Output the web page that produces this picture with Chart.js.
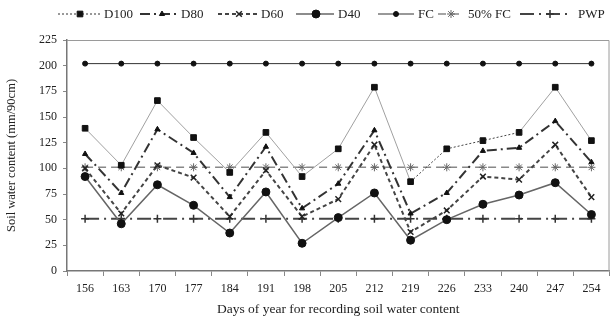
<!DOCTYPE html>
<html>
<head>
<meta charset="utf-8">
<script src="https://cdn.jsdelivr.net/npm/chart.js@4/dist/chart.umd.min.js"></script>
<style>
  html, body { margin: 0; padding: 0; background: #fff; }
  #wrap { width: 615px; height: 322px; }
</style>
</head>
<body>
<div id="wrap"><canvas id="chart" width="615" height="322"></canvas></div>
<script>
// data
const days = ["156", "163", "170", "177", "184", "191", "198", "205", "212", "219", "226", "233", "240", "247", "254"];
const d100 = [139, 103, 166, 130, 96, 135, 92, 119, 179, 87, 119, 127, 135, 179, 127];
const d80 = [114, 76, 138, 115, 72, 121, 61, 85, 137, 56, 76, 117, 120, 146, 106];
const d60 = [100, 56, 103, 91, 53, 98, 53, 70, 123, 38, 59, 92, 89, 123, 72];
const d40 = [92, 46, 84, 64, 37, 77, 27, 52, 76, 30, 50, 65, 74, 86, 55];
const fc = [202, 202, 202, 202, 202, 202, 202, 202, 202, 202, 202, 202, 202, 202, 202];
const halfFc = [101, 101, 101, 101, 101, 101, 101, 101, 101, 101, 101, 101, 101, 101, 101];
const pwp = [51, 51, 51, 51, 51, 51, 51, 51, 51, 51, 51, 51, 51, 51, 51];
const yTicks = [0, 25, 50, 75, 100, 125, 150, 175, 200, 225];

const serif = "'Liberation Serif', 'Times New Roman', serif";

// legend layout: line start, line end, marker x, text x
const legendPos = [
  [58, 100, 80, 104],
  [140, 176, 162, 181],
  [218, 258, 239, 261],
  [296, 334, 316, 338],
  [378, 414, 396, 418],
  [438, 464, 451, 468],
  [520, 572, 550, 578]
];

const legendPlugin = {
  id: "lineLegend",
  afterDraw(chart) {
    const ctx = chart.ctx;
    const y = 14;
    chart.data.datasets.forEach(function (ds, i) {
      const p = legendPos[i];
      ctx.save();
      ctx.strokeStyle = ds.legendLine || ds.borderColor;
      ctx.lineWidth = ds.borderWidth;
      ctx.setLineDash(ds.legendDash || ds.borderDash || []);
      ctx.beginPath();
      ctx.moveTo(p[0], y);
      ctx.lineTo(p[1], y);
      ctx.stroke();
      ctx.setLineDash([]);
      ctx.fillStyle = ds.pointBackgroundColor;
      ctx.strokeStyle = ds.pointBorderColor;
      ctx.lineWidth = ds.pointBorderWidth || 1;
      Chart.helpers.drawPoint(ctx, {
        pointStyle: ds.pointStyle,
        radius: ds.pointRadius,
        borderWidth: ds.pointBorderWidth || 1,
        rotation: 0
      }, p[2], y);
      ctx.fillStyle = "#222";
      ctx.font = "13px " + serif;
      ctx.textBaseline = "middle";
      ctx.fillText(ds.label, p[3], y + 1);
      ctx.restore();
    });
  }
};

// light frame on top and right of the plot
const framePlugin = {
  id: "frame",
  beforeDatasetsDraw(chart) {
    const a = chart.chartArea;
    const ctx = chart.ctx;
    ctx.save();
    ctx.strokeStyle = "#9a9a9a";
    ctx.lineWidth = 1;
    ctx.beginPath();
    ctx.moveTo(a.left, a.top + 0.5);
    ctx.lineTo(a.right - 0.5, a.top + 0.5);
    ctx.lineTo(a.right - 0.5, a.bottom);
    ctx.stroke();
    ctx.restore();
  }
};

new Chart(document.getElementById("chart"), {
  type: "line",
  data: {
    labels: days,
    datasets: [
      {
        label: "D100",
        data: d100,
        borderColor: "#a0a0a0",
        borderWidth: 1,
        legendLine: "#333",
        legendDash: [2, 2],
        segment: {
          borderDash: function (c) { return c.p0DataIndex >= 9 && c.p0DataIndex <= 11 ? [2, 2] : undefined; },
          borderColor: function (c) { return c.p0DataIndex >= 9 && c.p0DataIndex <= 11 ? "#444" : undefined; }
        },
        pointStyle: "rect",
        pointRadius: 4,
        pointBackgroundColor: "#111",
        pointBorderColor: "#111",
        pointBorderWidth: 1
      },
      {
        label: "D80",
        data: d80,
        borderColor: "#333",
        borderWidth: 2,
        borderDash: [10, 4, 2, 4],
        pointStyle: "triangle",
        pointRadius: 3,
        pointBackgroundColor: "#111",
        pointBorderColor: "#111",
        pointBorderWidth: 1
      },
      {
        label: "D60",
        data: d60,
        borderColor: "#444",
        borderWidth: 2,
        borderDash: [4, 3],
        pointStyle: "crossRot",
        pointRadius: 4,
        pointBackgroundColor: "#222",
        pointBorderColor: "#222",
        pointBorderWidth: 1.5
      },
      {
        label: "D40",
        data: d40,
        borderColor: "#666",
        borderWidth: 1.5,
        pointStyle: "circle",
        pointRadius: 4,
        pointBackgroundColor: "#111",
        pointBorderColor: "#111",
        pointBorderWidth: 1
      },
      {
        label: "FC",
        data: fc,
        borderColor: "#333",
        borderWidth: 1,
        pointStyle: "circle",
        pointRadius: 2.5,
        pointBackgroundColor: "#111",
        pointBorderColor: "#111",
        pointBorderWidth: 1
      },
      {
        label: "50% FC",
        data: halfFc,
        borderColor: "#888",
        borderWidth: 1.5,
        borderDash: [8, 5],
        pointStyle: "star",
        pointRadius: 4,
        pointBackgroundColor: "#666",
        pointBorderColor: "#666",
        pointBorderWidth: 1
      },
      {
        label: "PWP",
        data: pwp,
        borderColor: "#444",
        borderWidth: 2,
        borderDash: [14, 5, 2, 5],
        pointStyle: "cross",
        pointRadius: 4,
        pointBackgroundColor: "#333",
        pointBorderColor: "#333",
        pointBorderWidth: 1.5
      }
    ]
  },
  options: {
    responsive: false,
    animation: false,
    layout: { padding: { top: 40, right: 2, left: 0, bottom: 0 } },
    plugins: {
      legend: { display: false },
      tooltip: { enabled: false }
    },
    scales: {
      x: {
        offset: true,
        grid: { offset: true, drawOnChartArea: false, tickLength: 5, color: "#888" },
        border: { color: "#777", width: 1.5 },
        ticks: { color: "#222", font: { family: serif, size: 12 }, padding: 6, maxRotation: 0 },
        title: {
          display: true,
          text: "Days of year for recording soil water content",
          color: "#222",
          font: { family: serif, size: 13.5 },
          padding: { top: 3 }
        },
        afterFit: function (s) { s.height = 51; }
      },
      y: {
        min: 0,
        max: 225,
        afterBuildTicks: function (s) { s.ticks = yTicks.map(function (v) { return { value: v }; }); },
        grid: { drawOnChartArea: false, tickLength: 4, color: "#888" },
        border: { color: "#777", width: 1.5 },
        ticks: { color: "#222", font: { family: serif, size: 12 }, padding: 6 },
        title: {
          display: true,
          text: "Soil water content (mm/90cm)",
          color: "#222",
          font: { family: serif, size: 12.5 },
          padding: { bottom: 4 }
        },
        afterFit: function (s) { s.width = 67; }
      }
    }
  },
  plugins: [legendPlugin, framePlugin]
});
</script>
</body>
</html>
